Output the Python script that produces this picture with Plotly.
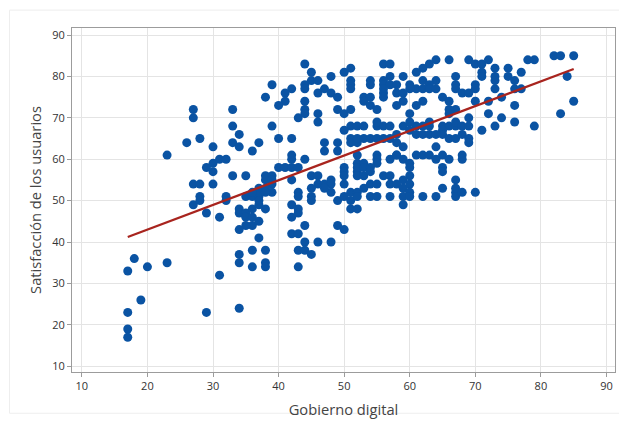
import plotly.graph_objects as go

# Gobierno digital (x) and Satisfacción de los usuarios (y) values
gobierno = [
    23, 26, 27, 27, 28, 30, 29, 30, 30, 31, 32, 27, 28, 30, 28, 32, 33, 33, 34, 33, 34, 33, 35, 36, 37, 35, 36, 37,
    27, 28, 29, 32, 31, 34, 34, 35, 35, 36, 36, 36, 35, 34, 37, 37, 37, 36, 34, 34, 36, 31, 34, 29,
    17, 18, 20, 23, 19, 17, 17, 17,
    44, 45, 48, 50, 51, 45, 46, 44, 44, 51, 51, 51, 39, 42, 41, 38, 46, 47, 48, 49, 41, 40, 44, 44, 44, 43,
    46, 46, 49, 50, 51, 39, 51, 52, 50, 40, 42, 47, 49, 51, 51, 52, 42, 47, 49,
    56, 57, 64, 66, 63, 62, 61, 57, 59, 54, 56, 54, 56, 57, 58, 60, 62, 64, 63, 61, 62, 63, 64, 60, 56, 56,
    58, 59, 53, 54, 56, 59, 62, 65, 66, 53, 54, 55, 58, 61, 60, 67, 53, 55, 56, 57, 59, 61, 62, 63, 65, 66,
    67, 60, 63, 55, 58, 60, 65, 65, 52, 53, 54, 55, 56, 57, 58, 61, 62, 63, 64, 59, 66, 67, 64, 52, 58, 62,
    63, 65,
    69, 70, 71, 72, 71, 71, 73, 73, 73, 73, 75, 75, 76, 77, 76, 77, 78, 79, 82, 83, 85, 84, 85, 83, 67, 67,
    67, 68, 69, 70, 70, 70, 72, 74, 76, 66, 66, 72, 69, 74, 67, 68, 69, 73, 76, 79, 68, 69, 71, 68,
    42, 44, 40, 41, 42, 43, 38, 39, 38, 39, 39, 42, 37, 38, 39, 37, 38, 36, 45, 46, 46, 47, 48, 48, 48, 47,
    43, 43, 45, 45, 45, 50, 50, 50, 52, 52, 50, 49, 50, 51, 52, 51, 51, 52, 37, 38, 42, 43, 43, 42, 44, 42,
    43, 44, 46, 48, 49, 50, 43, 44, 45, 38,
    55, 55, 55, 57, 58, 59, 60, 60, 60, 53, 52, 53, 54, 52, 53, 54, 56, 57, 54, 55, 53, 57, 58, 59, 59, 60,
    60, 52, 54, 55, 57, 59, 60, 59, 62, 64, 65, 61, 64, 66, 65, 65, 67, 67, 67,
    69, 68, 67, 68, 70, 38, 38, 43,
]
satisfaccion = [
    61, 64, 72, 70, 65, 63, 58, 59, 57, 60, 60, 54, 54, 54, 51, 51, 72, 68, 66, 64, 63, 56, 56, 62, 64, 51, 51, 51,
    49, 50, 47, 50, 46, 48, 47, 47, 46, 48, 46, 44, 44, 43, 49, 45, 41, 38, 37, 35, 34, 32, 24, 23,
    33, 36, 34, 35, 26, 23, 19, 17,
    83, 81, 80, 81, 82, 79, 79, 78, 77, 79, 78, 77, 78, 77, 76, 75, 76, 77, 76, 75, 74, 73, 74, 72, 71, 70,
    71, 69, 72, 71, 72, 68, 68, 68, 67, 65, 65, 64, 64, 65, 64, 64, 61, 62, 62,
    83, 83, 84, 84, 83, 82, 81, 80, 80, 79, 79, 78, 78, 78, 78, 78, 79, 79, 78, 77, 77, 77, 77, 77, 77, 76,
    76, 76, 75, 75, 75, 74, 74, 75, 74, 74, 73, 72, 73, 73, 71, 72, 68, 68, 68, 68, 68, 68, 68, 68, 68, 68,
    68, 69, 69, 69, 66, 67, 67, 66, 65, 65, 65, 65, 65, 65, 64, 66, 66, 66, 66, 63, 65, 65, 63, 61, 61, 61,
    61, 61,
    84, 83, 83, 84, 81, 80, 82, 80, 79, 77, 82, 80, 79, 81, 77, 77, 84, 84, 85, 85, 85, 80, 74, 71, 80, 78,
    77, 76, 76, 78, 77, 74, 74, 75, 73, 72, 71, 71, 70, 70, 69, 68, 68, 68, 69, 68, 66, 65, 67, 61,
    60, 60, 58, 58, 58, 58, 56, 56, 55, 55, 54, 55, 53, 53, 52, 52, 52, 52, 56, 56, 54, 54, 55, 54, 52, 53,
    52, 51, 53, 51, 50, 58, 57, 56, 59, 57, 54, 50, 51, 52, 52, 50, 48, 48, 50, 48, 49, 48, 47, 46, 44, 42,
    42, 40, 40, 40, 44, 43, 38, 38, 37, 38,
    61, 60, 59, 60, 61, 60, 59, 58, 56, 59, 58, 58, 58, 56, 56, 57, 56, 56, 54, 54, 53, 54, 54, 55, 53, 54,
    52, 51, 51, 51, 51, 51, 51, 49, 51, 51, 53, 61, 60, 60, 58, 57, 55, 53, 52,
    64, 60, 51, 52, 52, 35, 34, 34,
]

# fitted regression line endpoints
ajuste_x = [17, 85]
ajuste_y = [41.2, 81.8]

x_ticks = [10, 20, 30, 40, 50, 60, 70, 80, 90]
y_ticks = [10, 20, 30, 40, 50, 60, 70, 80, 90]

font_family = "Open Sans, Noto Sans, DejaVu Sans, sans-serif"

fig = go.Figure()
fig.add_trace(go.Scatter(
    x=gobierno, y=satisfaccion, mode="markers",
    marker=dict(symbol="circle", size=9, color="#0A53A3", line=dict(width=0)),
    showlegend=False, hoverinfo="x+y",
))
fig.add_trace(go.Scatter(
    x=ajuste_x, y=ajuste_y, mode="lines",
    line=dict(color="#A8241E", width=2.2),
    showlegend=False, hoverinfo="skip",
))

axis_common = dict(
    showgrid=True, gridcolor="#E4E4E4", gridwidth=1,
    showline=True, linecolor="#9C9C9C", linewidth=1, mirror=True,
    ticks="outside", ticklen=4, tickcolor="#9C9C9C", tickwidth=1,
    tickfont=dict(family=font_family, size=11, color="#333333"),
    zeroline=False, automargin=False,
)

# the page body adds 8px of margin, so the figure is sized to the remaining window
fig.update_layout(
    width=619, height=413,
    margin=dict(l=63.5, r=12, t=19.5, b=49),
    paper_bgcolor="white", plot_bgcolor="white",
    xaxis=dict(range=[8.5, 91.3], tickvals=x_ticks,
               title=dict(text="Gobierno digital", standoff=12,
                          font=dict(family=font_family, size=14.7, color="#444444")),
               **axis_common),
    yaxis=dict(range=[8.6, 91.7], tickvals=y_ticks,
               title=dict(text="Satisfacción de los usuarios", standoff=7,
                          font=dict(family=font_family, size=14.7, color="#444444")),
               **axis_common),
    shapes=[dict(type="rect", xref="paper", yref="paper",
                 x0=-0.115, x1=1.009, y0=-0.12, y1=1.052,
                 line=dict(color="#EEEEEE", width=1), fillcolor="rgba(0,0,0,0)", layer="below")],
)

fig.write_html("out.html")
